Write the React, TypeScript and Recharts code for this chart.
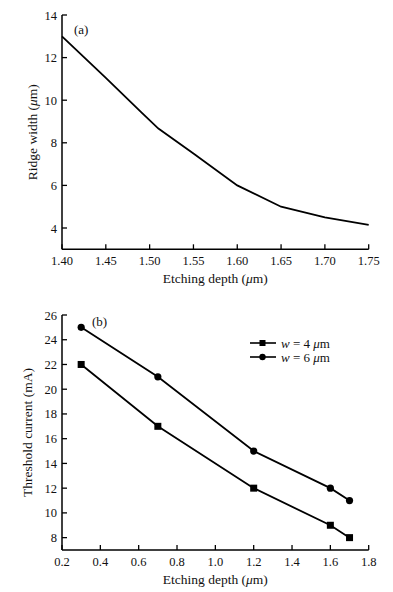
import React from 'react';
import { LineChart, Line, XAxis, YAxis, Legend, Label } from 'recharts';

const FONT = '"Liberation Serif", "Times New Roman", serif';

// Chart (a)
const ridgeDepth = [1.4, 1.45, 1.49, 1.51, 1.55, 1.6, 1.65, 1.7, 1.75];
const ridgeWidth = [13.0, 11.05, 9.45, 8.67, 7.5, 6.0, 5.0, 4.5, 4.15];
const ridgeXTicks = [1.4, 1.45, 1.5, 1.55, 1.6, 1.65, 1.7, 1.75];
const ridgeYTicks = [4, 6, 8, 10, 12, 14];

// Chart (b)
const etchDepth = [0.3, 0.7, 1.2, 1.6, 1.7];
const thresholdW4 = [22, 17, 12, 9, 8];
const thresholdW6 = [25, 21, 15, 12, 11];
const thrXTicks = [0.2, 0.4, 0.6, 0.8, 1.0, 1.2, 1.4, 1.6, 1.8];
const thrYTicks = [8, 10, 12, 14, 16, 18, 20, 22, 24, 26];
const seriesNames = ['4', '6'];

const ridgeData = ridgeDepth.map((d, i) => ({ d, v: ridgeWidth[i] }));
const thrData = etchDepth.map((d, i) => ({ d, w4: thresholdW4[i], w6: thresholdW6[i] }));

const makeXTick = (digits: number) => (props: any) => {
  const { x, y, payload } = props;
  return (
    <g>
      <line x1={x} y1={y} x2={x} y2={y - 5} stroke="#000" strokeWidth={1.3} />
      <text x={x} y={y + 16} textAnchor="middle" fontFamily={FONT} fontSize={12.5} fill="#111">
        {Number(payload.value).toFixed(digits)}
      </text>
    </g>
  );
};

const YTick = (props: any) => {
  const { x, y, payload } = props;
  return (
    <g>
      <line x1={x} y1={y} x2={x + 5} y2={y} stroke="#000" strokeWidth={1.3} />
      <text x={x - 5} y={y + 4.5} textAnchor="end" fontFamily={FONT} fontSize={12.5} fill="#111">
        {payload.value}
      </text>
    </g>
  );
};

const XTitle = (baselineFromTop: number) => (props: any) => {
  const vb = props.viewBox || {};
  const cx = vb.x + vb.width / 2;
  return (
    <text x={cx} y={baselineFromTop} textAnchor="middle" fontFamily={FONT} fontSize={13.5} fill="#111">
      Etching depth (<tspan fontStyle="italic">μ</tspan>m)
    </text>
  );
};

const YTitle = (xPos: number, parts: React.ReactNode) => (props: any) => {
  const vb = props.viewBox || {};
  const cy = vb.y + vb.height / 2;
  return (
    <text
      x={0}
      y={0}
      transform={`translate(${xPos},${cy}) rotate(-90)`}
      textAnchor="middle"
      dominantBaseline="central"
      fontFamily={FONT}
      fontSize={13.5}
      fill="#111"
    >
      {parts}
    </text>
  );
};

const PanelTag = (tag: string, dx: number, dy: number) => (props: any) => {
  const vb = props.viewBox || {};
  return (
    <text x={vb.x + vb.width + dx} y={vb.y + dy} fontFamily={FONT} fontSize={13} fill="#111">
      {tag}
    </text>
  );
};

const SquareDot = (props: any) => {
  const { cx, cy } = props;
  if (cx == null || cy == null) return null;
  return <rect x={cx - 3.5} y={cy - 3.5} width={7} height={7} fill="#000" />;
};

const CircleDot = (props: any) => {
  const { cx, cy } = props;
  if (cx == null || cy == null) return null;
  return <circle cx={cx} cy={cy} r={3.6} fill="#000" />;
};

const LegendContent = () => (
  <svg width={110} height={32} style={{ overflow: 'visible' }}>
    {seriesNames.map((n, i) => {
      const y = 8 + i * 14;
      return (
        <g key={n}>
          <line x1={0} y1={y} x2={26} y2={y} stroke="#000" strokeWidth={1.6} />
          {i === 0 ? (
            <rect x={9.5} y={y - 3} width={6} height={6} fill="#000" />
          ) : (
            <circle cx={12.5} cy={y} r={3.2} fill="#000" />
          )}
          <text x={31} y={y + 4.5} fontFamily={FONT} fontSize={13} fill="#111">
            <tspan fontStyle="italic">w</tspan> = {n} <tspan fontStyle="italic">μ</tspan>m
          </text>
        </g>
      );
    })}
  </svg>
);

export default function App() {
  return (
    <div style={{ position: 'absolute', left: 0, top: 0, width: 393, height: 592, background: '#fff' }}>
      <LineChart width={393} height={300} data={ridgeData} margin={{ top: 15, right: 24.3, left: 0, bottom: 0 }}>
        <XAxis
          dataKey="d"
          type="number"
          domain={[1.4, 1.75]}
          ticks={ridgeXTicks}
          height={50.7}
          tickSize={0}
          tickMargin={0}
          tickLine={false}
          axisLine={{ stroke: '#000', strokeWidth: 1.5 }}
          tick={makeXTick(2)}
          interval={0}
        >
          <Label content={XTitle(283)} />
        </XAxis>
        <YAxis
          type="number"
          domain={[3, 14]}
          ticks={ridgeYTicks}
          width={62}
          tickSize={0}
          tickMargin={0}
          tickLine={false}
          axisLine={{ stroke: '#000', strokeWidth: 1.5 }}
          tick={YTick}
          interval={0}
        >
          <Label content={YTitle(32, <>Ridge width (<tspan fontStyle="italic">μ</tspan>m)</>)} />
          <Label content={PanelTag('(a)', 12, 19)} />
        </YAxis>
        <Line
          dataKey="v"
          type="linear"
          stroke="#000"
          strokeWidth={1.8}
          dot={false}
          isAnimationActive={false}
        />
      </LineChart>
      <LineChart width={393} height={292} data={thrData} margin={{ top: 15, right: 24.3, left: 0, bottom: 0 }}>
        <XAxis
          dataKey="d"
          type="number"
          domain={[0.2, 1.8]}
          ticks={thrXTicks}
          height={42}
          tickSize={0}
          tickMargin={0}
          tickLine={false}
          axisLine={{ stroke: '#000', strokeWidth: 1.5 }}
          tick={makeXTick(1)}
          interval={0}
        >
          <Label content={XTitle(284)} />
        </XAxis>
        <YAxis
          type="number"
          domain={[7, 26]}
          ticks={thrYTicks}
          width={62}
          tickSize={0}
          tickMargin={0}
          tickLine={false}
          axisLine={{ stroke: '#000', strokeWidth: 1.5 }}
          tick={YTick}
          interval={0}
        >
          <Label content={YTitle(27, <>Threshold current (mA)</>)} />
          <Label content={PanelTag('(b)', 30, 11)} />
        </YAxis>
        <Legend
          layout="vertical"
          align="center"
          verticalAlign="middle"
          content={LegendContent}
          wrapperStyle={{ left: 250, top: 35, width: 110, height: 32 }}
        />
        <Line
          dataKey="w4"
          name="w = 4 μm"
          type="linear"
          stroke="#000"
          strokeWidth={1.8}
          dot={<SquareDot />}
          isAnimationActive={false}
        />
        <Line
          dataKey="w6"
          name="w = 6 μm"
          type="linear"
          stroke="#000"
          strokeWidth={1.8}
          dot={<CircleDot />}
          isAnimationActive={false}
        />
      </LineChart>
    </div>
  );
}
